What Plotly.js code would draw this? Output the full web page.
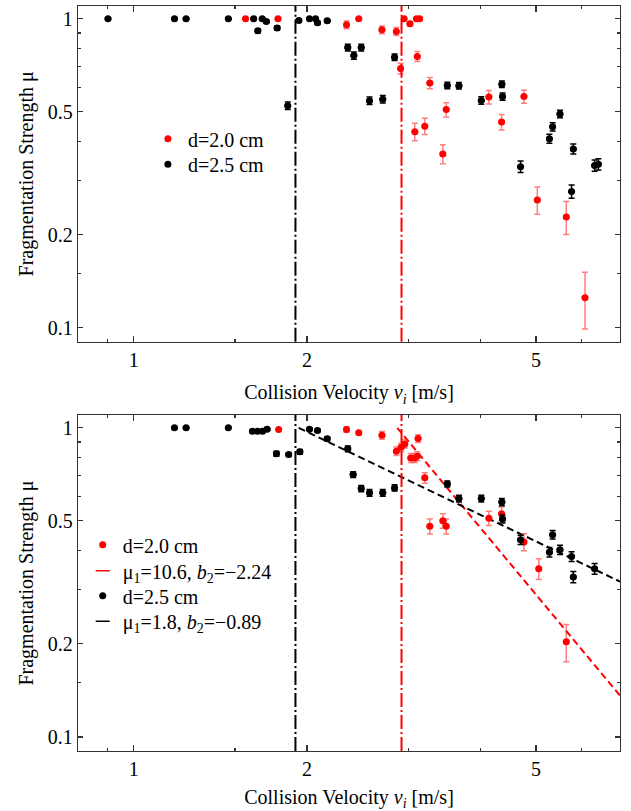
<!DOCTYPE html>
<html>
<head>
<meta charset="utf-8">
<script src="https://cdn.plot.ly/plotly-3.0.1.min.js"></script>
<style>html,body{margin:0;padding:0;background:#fff}</style>
</head>
<body>
<div id="chart" style="width:631px;height:811px"></div>
<script>
// ---------- data: top panel ----------
const topBlackV  = [0.902, 1.177, 1.233, 1.46, 1.616, 1.643, 1.672, 1.70, 1.775, 1.852, 1.936, 2.02, 2.07, 2.086, 2.169, 2.355, 2.413, 2.485, 2.569, 2.709, 2.84, 3.507, 3.674, 4.018, 4.363, 4.375, 4.702, 5.277, 5.346, 5.505, 5.807, 5.767, 6.324, 6.42];
const topBlackMu = [1, 1, 1, 1, 1, 0.914, 1, 0.98, 0.933, 0.523, 0.987, 1, 1, 0.97, 0.985, 0.807, 0.76, 0.807, 0.543, 0.549, 0.751, 0.608, 0.607, 0.544, 0.614, 0.56, 0.332, 0.409, 0.447, 0.492, 0.379, 0.276, 0.335, 0.338];
const topBlackErr= [0, 0, 0, 0, 0, 0.015, 0, 0.012, 0.015, 0.015, 0.012, 0, 0, 0.012, 0.012, 0.02, 0.02, 0.02, 0.015, 0.015, 0.018, 0.015, 0.015, 0.015, 0.015, 0.015, 0.014, 0.014, 0.014, 0.014, 0.014, 0.0135, 0.014, 0.014];

const topRedV  = [1.564, 1.781, 2.343, 2.461, 2.70, 2.86, 2.909, 2.95, 3.02, 3.10, 3.14, 3.11, 3.08, 3.205, 3.27, 3.492, 3.445, 4.142, 4.358, 4.766, 5.028, 5.646, 6.085];
const topRedMu = [1, 1, 0.956, 1, 0.921, 0.91, 0.69, 1, 0.963, 1, 1, 0.755, 0.431, 0.449, 0.62, 0.508, 0.365, 0.558, 0.463, 0.56, 0.259, 0.228, 0.125];
const topRedErr= [0, 0, 0.027, 0, 0.027, 0.027, 0.028, 0, 0.015, 0, 0, 0.028, 0.028, 0.027, 0.026, 0.027, 0.026, 0.028, 0.027, 0.027, 0.026, 0.028, 0.026];

// ---------- data: bottom panel ----------
const botBlackV  = [1.177, 1.233, 1.46, 1.608, 1.641, 1.674, 1.705, 1.77, 1.859, 1.944, 2.02, 2.086, 2.169, 2.355, 2.406, 2.485, 2.569, 2.709, 2.84, 3.507, 3.674, 4.018, 4.363, 4.375, 4.702, 5.277, 5.346, 5.505, 5.767, 5.807, 6.324];
const botBlackMu = [1, 1, 1, 0.975, 0.975, 0.975, 0.99, 0.824, 0.819, 0.836, 0.99, 0.98, 0.921, 0.855, 0.706, 0.636, 0.616, 0.616, 0.639, 0.658, 0.59, 0.59, 0.575, 0.507, 0.434, 0.396, 0.451, 0.403, 0.3835, 0.329, 0.35];
const botBlackErr= [0, 0, 0, 0.01, 0.01, 0.01, 0.012, 0.015, 0.012, 0.015, 0.01, 0.012, 0.015, 0.018, 0.015, 0.015, 0.015, 0.015, 0.015, 0.015, 0.015, 0.015, 0.015, 0.015, 0.015, 0.014, 0.014, 0.014, 0.014, 0.014, 0.014];

const botRedV  = [1.786, 2.343, 2.461, 2.70, 2.86, 2.916, 2.958, 3.03, 3.077, 3.11, 3.12, 3.205, 3.27, 3.445, 3.492, 4.142, 4.358, 4.766, 5.057, 5.646];
const botRedMu = [0.987, 0.987, 0.963, 0.946, 0.84, 0.865, 0.887, 0.799, 0.799, 0.809, 0.923, 0.689, 0.48, 0.50, 0.48, 0.51, 0.527, 0.427, 0.35, 0.203];
const botRedErr= [0, 0.02, 0.012, 0.027, 0.027, 0.027, 0.027, 0.027, 0.027, 0.027, 0.027, 0.027, 0.027, 0.027, 0.027, 0.027, 0.027, 0.027, 0.027, 0.028];

// fit lines (endpoints) and their labels
const fitRedV   = [2.87, 7];
const fitRedMu  = [1.0, 0.136];
const fitBlackV = [1.935, 7];
const fitBlackMu= [1.0, 0.318];
const fitRedLabel   = 'μ<sub>1</sub>=10.6, <i>b</i><sub>2</sub>=\u22122.24';
const fitBlackLabel = 'μ<sub>1</sub>=1.8, <i>b</i><sub>2</sub>=\u22120.89';

// threshold velocities (vertical dash-dot lines)
const thresholdV      = [1.91, 2.92];
const thresholdColors = ['#000000', '#ff0000'];

const seriesNames = ['d=2.0 cm', 'd=2.5 cm'];
const xTickVals = [1, 2, 5];
const xMinorVals = [0.9, 1.5, 3, 4, 6];
const yTickVals = [0.1, 0.2, 0.5, 1];
const yTickText = ['0.1', '0.2', '0.5', '1'];
const yMinorVals = [0.15, 0.3, 0.4, 0.6, 0.7, 0.8, 0.9];

// ---------- styles ----------
const RED = '#ff0000';
const RED_ERR = 'rgba(255,40,40,0.6)';
const BLK = '#000000';
const FONT = 'Liberation Serif, Times New Roman, serif';

function pointTrace(v, mu, err, color, errColor, name, xa, ya, leg) {
  return {
    x: v, y: mu, type: 'scatter', mode: 'markers', name: name,
    xaxis: xa, yaxis: ya, legend: leg, showlegend: true,
    marker: {color: color, size: 7},
    error_y: {type: 'data', array: err, visible: true, color: errColor, thickness: 1.5, width: 3},
    error_x: {type: 'percent', value: 1.1, visible: true, color: errColor, thickness: 1.2, width: 1.5}
  };
}

const traces = [
  pointTrace(topRedV, topRedMu, topRedErr, RED, RED_ERR, seriesNames[0], 'x', 'y', 'legend'),
  pointTrace(topBlackV, topBlackMu, topBlackErr, BLK, BLK, seriesNames[1], 'x', 'y', 'legend2'),
  // bottom panel
  {x: fitRedV, y: fitRedMu, type: 'scatter', mode: 'lines', xaxis: 'x2', yaxis: 'y2', showlegend: false,
   line: {color: RED, width: 2, dash: '7px,4px'}, hoverinfo: 'skip'},
  {x: fitBlackV, y: fitBlackMu, type: 'scatter', mode: 'lines', xaxis: 'x2', yaxis: 'y2', showlegend: false,
   line: {color: BLK, width: 2, dash: '7px,4px'}, hoverinfo: 'skip'},
  pointTrace(botRedV, botRedMu, botRedErr, RED, RED_ERR, seriesNames[0], 'x2', 'y2', 'legend3'),
  {x: [null], y: [null], type: 'scatter', mode: 'markers', xaxis: 'x2', yaxis: 'y2', legend: 'legend4',
   name: fitRedLabel, marker: {symbol: 'line-ew', size: 10, color: RED, line: {color: RED, width: 1.5}}},
  pointTrace(botBlackV, botBlackMu, botBlackErr, BLK, BLK, seriesNames[1], 'x2', 'y2', 'legend5'),
  {x: [null], y: [null], type: 'scatter', mode: 'markers', xaxis: 'x2', yaxis: 'y2', legend: 'legend6',
   name: fitBlackLabel, marker: {symbol: 'line-ew', size: 10, color: BLK, line: {color: BLK, width: 1.5}}}
];

function xAxis(anchor, standoff) {
  return {
    type: 'log', anchor: anchor, domain: [0, 1],
    range: [Math.log10(0.8), Math.log10(7)],
    tickmode: 'array', tickvals: xTickVals, ticktext: xTickVals.map(String),
    ticks: 'inside', ticklen: 6, tickwidth: 1.3, tickcolor: '#333',
    minor: {tickmode: 'array', tickvals: xMinorVals, ticks: 'inside', ticklen: 3, tickwidth: 1.3, tickcolor: '#333', showgrid: false},
    showline: true, linecolor: '#333', linewidth: 1.3, mirror: 'ticks',
    showgrid: false, zeroline: false,
    tickfont: {family: FONT, size: 20, color: '#000'},
    title: {text: 'Collision Velocity <i>v<sub>i</sub></i> [m/s]', font: {family: FONT, size: 20, color: '#000'}, standoff: standoff}
  };
}
function yAxis(anchor, domain) {
  return {
    type: 'log', anchor: anchor, domain: domain,
    range: [Math.log10(0.09), Math.log10(1.1)],
    tickmode: 'array', tickvals: yTickVals, ticktext: yTickText,
    ticks: 'inside', ticklen: 5, tickwidth: 1.3, tickcolor: '#333',
    minor: {tickmode: 'array', tickvals: yMinorVals, ticks: 'inside', ticklen: 3, tickwidth: 1.3, tickcolor: '#333', showgrid: false},
    showline: true, linecolor: '#333', linewidth: 1.3, mirror: 'ticks',
    showgrid: false, zeroline: false,
    tickfont: {family: FONT, size: 20, color: '#000'},
    title: {text: 'Fragmentation Strength μ', font: {family: FONT, size: 20, color: '#000'}, standoff: 8}
  };
}

const shapes = [];
[['x', 'y'], ['x2', 'y2']].forEach(function (ax) {
  thresholdV.forEach(function (v, i) {
    shapes.push({type: 'line', xref: ax[0], yref: ax[1] + ' domain', x0: v, x1: v, y0: 0, y1: 1,
      line: {color: thresholdColors[i], width: 2, dash: '14px,3px,2px,3px'}});
  });
});

function legendAt(x, y) {
  return {x: x, y: y, xanchor: 'left', yanchor: 'top', bgcolor: 'rgba(0,0,0,0)', borderwidth: 0,
    font: {family: FONT, size: 20, color: '#000'}, traceorder: 'normal', tracegroupgap: 0};
}

const layout = {
  width: 631, height: 811,
  margin: {l: 78, r: 11, t: 6, b: 60},
  paper_bgcolor: '#fff', plot_bgcolor: '#fff',
  font: {family: FONT, size: 20, color: '#000'},
  xaxis: xAxis('y', 15),
  yaxis: yAxis('x', [0.5494, 1]),
  xaxis2: xAxis('y2', 13),
  yaxis2: yAxis('x2', [0, 0.451]),
  shapes: shapes,
  legend:  legendAt(0.129, 0.848),
  legend2: legendAt(0.129, 0.8137),
  legend3: legendAt(0.0087, 0.303),
  legend4: legendAt(0.0087, 0.2682),
  legend5: legendAt(0.0087, 0.2346),
  legend6: legendAt(0.0087, 0.2002),
  showlegend: true
};

Plotly.newPlot('chart', traces, layout, {displayModeBar: false, staticPlot: true});
</script>
</body>
</html>
